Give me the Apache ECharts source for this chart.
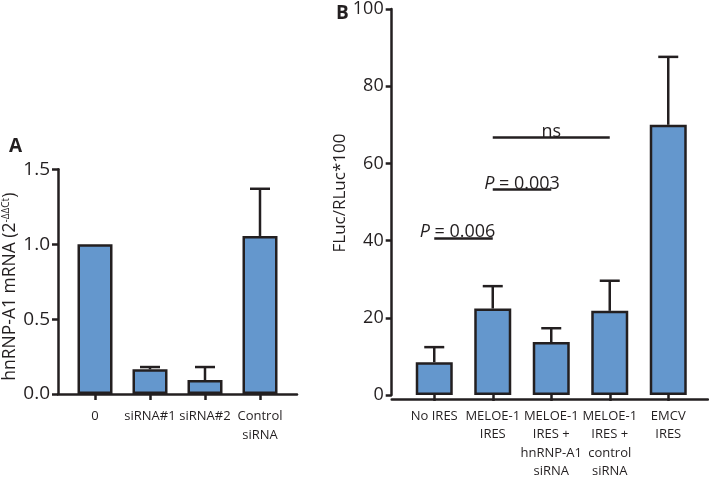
<!DOCTYPE html>
<html>
<head>
<meta charset="utf-8">
<script src="https://cdn.jsdelivr.net/npm/echarts@6/dist/echarts.min.js"></script>
<style>html,body{margin:0;padding:0;background:#fff;}#c{width:709px;height:481px;}</style>
</head>
<body>
<div id="c"></div>
<script>
// Panel A data
var catsA = ['0', 'siRNA#1', 'siRNA#2', 'Control\nsiRNA'];
var valsA = [1.0, 0.165, 0.093, 1.055];
var sdA = [0, 0.015, 0.087, 0.315];
var ticksA = [0, 0.5, 1.0, 1.5];

// Panel B data
var catsB = ['No IRES', 'MELOE-1\nIRES', 'MELOE-1\nIRES +\nhnRNP-A1\nsiRNA', 'MELOE-1\nIRES +\ncontrol\nsiRNA', 'EMCV\nIRES'];
var valsB = [8.5, 22.4, 13.7, 21.8, 70.0];
var sdB = [3.9, 5.8, 3.6, 7.8, 17.6];
var ticksB = [0, 20, 40, 60, 80, 100];

// Significance annotations for B
var sigFrom = [0, 1, 1];
var sigTo = [1, 2, 3];
var sigY = [40.6, 53.2, 66.7];
var sigLabel = ['{i|P} = 0.006', '{i|P} = 0.003', 'ns'];

var FONT = 'Open Sans';
var DARK = '#231f20';
var FILL = '#6497cd';

function errRender(capW) {
  return function (params, api) {
    var x = api.value(0), y = api.value(1), e = api.value(2);
    if (!e) return null;
    var p0 = api.coord([x, y]);
    var p1 = api.coord([x, y + e]);
    return {
      type: 'group',
      children: [
        {type: 'line', shape: {x1: p0[0], y1: p0[1], x2: p1[0], y2: p1[1]}, style: {stroke: DARK, lineWidth: 2.5}},
        {type: 'line', shape: {x1: p1[0] - capW / 2, y1: p1[1], x2: p1[0] + capW / 2, y2: p1[1]}, style: {stroke: DARK, lineWidth: 2.5}}
      ]
    };
  };
}

var errDataA = valsA.map(function (v, i) { return [i, v, sdA[i]]; });
var errDataB = valsB.map(function (v, i) { return [i, v, sdB[i]]; });

var markData = sigFrom.map(function (f, i) {
  var lab = {formatter: sigLabel[i]};
  if (i === 0) lab.padding = [0, 12, 0, 0];
  return [
    {coord: [f, sigY[i]], label: lab},
    {coord: [sigTo[i], sigY[i]]}
  ];
});

var chart = echarts.init(document.getElementById('c'), null, {renderer: 'canvas'});

var catAxisCommon = {
  type: 'category',
  axisLine: {show: false},
  axisTick: {show: true, alignWithLabel: true, length: 6, lineStyle: {color: DARK, width: 2.5}},
  splitLine: {show: false}
};

var lineAxisCommon = {
  type: 'value',
  min: 0, max: 1,
  axisLine: {show: true, onZero: false, lineStyle: {color: DARK, width: 2.5}},
  axisTick: {show: false},
  axisLabel: {show: false},
  splitLine: {show: false}
};

var option = {
  backgroundColor: '#fff',
  animation: false,
  textStyle: {fontFamily: FONT, color: DARK},
  title: [
    {text: 'A', left: 4, top: 132, textStyle: {fontFamily: FONT, fontWeight: 'bold', fontSize: 19, color: DARK}},
    {text: 'B', left: 331, top: -1, textStyle: {fontFamily: FONT, fontWeight: 'bold', fontSize: 19, color: DARK}}
  ],
  grid: [
    {left: 67.5, top: 169.3, width: 220, height: 224.7},
    {left: 58, top: 169.3, width: 239, height: 224.7},
    {left: 405, top: 7.3, width: 292.5, height: 392},
    {left: 391.7, top: 7.3, width: 316.3, height: 392}
  ],
  xAxis: [
    Object.assign({}, catAxisCommon, {
      gridIndex: 0, data: catsA,
      axisLabel: {fontFamily: FONT, fontSize: 13, color: DARK, lineHeight: 19, margin: 13, interval: 0}
    }),
    Object.assign({}, lineAxisCommon, {gridIndex: 1}),
    Object.assign({}, catAxisCommon, {
      gridIndex: 2, data: catsB,
      axisLabel: {fontFamily: FONT, fontSize: 13, color: DARK, lineHeight: 18.5, margin: 12, interval: 0}
    }),
    Object.assign({}, lineAxisCommon, {gridIndex: 3})
  ],
  yAxis: [
    {
      type: 'value', gridIndex: 0, min: ticksA[0], max: ticksA[ticksA.length - 1], interval: 0.5,
      offset: 9.5,
      axisLine: {show: true, lineStyle: {color: DARK, width: 2.5}},
      axisTick: {show: true, length: 6, lineStyle: {color: DARK, width: 2.5}},
      splitLine: {show: false},
      axisLabel: {fontFamily: FONT, fontSize: 19, color: DARK, margin: 8, formatter: function (v) { return v.toFixed(1); }},
      name: '{n|hnRNP-A1 mRNA (2}{s|-ΔΔCt}{n|)}',
      nameLocation: 'middle', nameGap: 38,
      nameTextStyle: {
        padding: [0, 10, 0, 0],
        rich: {
          n: {fontFamily: FONT, fontSize: 17.5, color: DARK},
          s: {fontFamily: FONT, fontSize: 10, color: DARK, verticalAlign: 'top', padding: [0, 0, 8, 0]}
        }
      }
    },
    {type: 'value', gridIndex: 1, show: false, min: 0, max: 1},
    {
      type: 'value', gridIndex: 2, min: ticksB[0], max: ticksB[ticksB.length - 1], interval: 20,
      offset: 13.3,
      axisLine: {show: true, lineStyle: {color: DARK, width: 2.5}},
      axisTick: {show: true, length: 6, lineStyle: {color: DARK, width: 2.5}},
      splitLine: {show: false},
      axisLabel: {fontFamily: FONT, fontSize: 18, color: DARK, margin: 8},
      name: 'FLuc/RLuc*100',
      nameLocation: 'middle', nameGap: 37,
      nameTextStyle: {fontFamily: FONT, fontSize: 17, color: DARK, padding: [0, 0, 0, 18]}
    },
    {type: 'value', gridIndex: 3, show: false, min: 0, max: 1}
  ],
  series: [
    {
      type: 'bar', xAxisIndex: 0, yAxisIndex: 0, data: valsA, barWidth: 35,
      itemStyle: {color: FILL, borderColor: DARK, borderWidth: 2.5}
    },
    {
      type: 'custom', xAxisIndex: 0, yAxisIndex: 0, data: errDataA, renderItem: errRender(20), z: 3
    },
    {
      type: 'bar', xAxisIndex: 2, yAxisIndex: 2, data: valsB, barWidth: 37,
      itemStyle: {color: FILL, borderColor: DARK, borderWidth: 2.5},
      markLine: {
        silent: true, symbol: ['none', 'none'],
        lineStyle: {color: DARK, width: 2.5, type: 'solid'},
        label: {
          show: true, position: 'insideMiddleTop', distance: -3,
          fontFamily: FONT, fontSize: 18, color: DARK,
          rich: {i: {fontFamily: FONT, fontSize: 18, fontStyle: 'italic', color: DARK}}
        },
        data: markData
      }
    },
    {
      type: 'custom', xAxisIndex: 2, yAxisIndex: 2, data: errDataB, renderItem: errRender(20), z: 3
    }
  ]
};

chart.setOption(option);
</script>
</body>
</html>
